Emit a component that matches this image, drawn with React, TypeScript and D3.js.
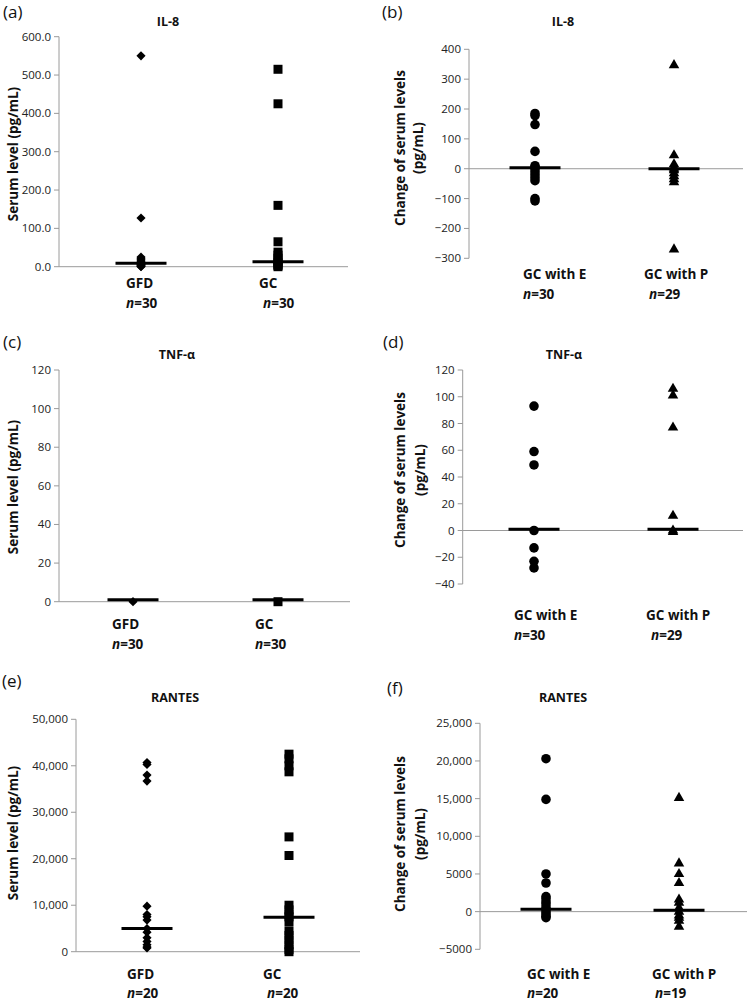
import React from "react";
import * as d3 from "d3";

// ---------- DATA ----------
const il8Groups = ["GFD", "GC"];
const il8N = ["30", "30"];
const il8GFD = [550, 127, 25, 22, 18, 15, 12, 10, 8, 6, 5, 3, 2, 1, 0];
const il8GC = [515, 425, 160, 65, 38, 30, 22, 15, 10, 6, 3, 0];
const il8Medians = [9, 13];
const il8Ticks = [0, 100, 200, 300, 400, 500, 600];

const il8ChgGroups = ["GC with E", "GC with P"];
const il8ChgN = ["30", "29"];
const il8ChgE = [185, 178, 148, 58, 10, 5, 0, -10, -20, -30, -40, -100, -108];
const il8ChgP = [347, 45, 15, 5, 0, -5, -15, -25, -35, -45, -270];
const il8ChgMedians = [3, 0];
const il8ChgTicks = [-300, -200, -100, 0, 100, 200, 300, 400];

const tnfGroups = ["GFD", "GC"];
const tnfN = ["30", "30"];
const tnfGFD = [0];
const tnfGC = [0];
const tnfMedians = [1, 1];
const tnfTicks = [0, 20, 40, 60, 80, 100, 120];

const tnfChgGroups = ["GC with E", "GC with P"];
const tnfChgN = ["30", "29"];
const tnfChgE = [93, 59, 49, 0, -13, -23, -28];
const tnfChgP = [106, 101, 77, 11, 0, -1];
const tnfChgMedians = [1, 1];
const tnfChgTicks = [-40, -20, 0, 20, 40, 60, 80, 100, 120];

const rantesGroups = ["GFD", "GC"];
const rantesN = ["20", "20"];
const rantesGFD = [40700, 40300, 38000, 36700, 9800, 8000, 7500, 6800, 5000, 4200, 3000, 2200, 1500, 1000, 800];
const rantesGC = [42500, 41500, 40000, 38700, 24700, 20700, 10000, 9000, 8000, 7500, 6500, 4500, 3500, 2500, 1500, 500, 0];
const rantesMedians = [5000, 7400];
const rantesTicks = [0, 10000, 20000, 30000, 40000, 50000];

const rantesChgGroups = ["GC with E", "GC with P"];
const rantesChgN = ["20", "19"];
const rantesChgE = [20300, 14900, 5000, 3800, 2000, 1700, 1300, 1000, 600, 300, 0, -300, -600, -800];
const rantesChgP = [15100, 6400, 5000, 3800, 1600, 1200, 500, 0, -500, -800, -1200, -2000];
const rantesChgMedians = [300, 200];
const rantesChgTicks = [-5000, 0, 5000, 10000, 15000, 20000, 25000];

// ---------- LAYOUT ----------
const FONT = "'Open Sans', 'Noto Sans', sans-serif";

type Sym = "diamond" | "square" | "circle" | "triangle";

interface PanelCfg {
  letter: string; letterX: number; letterY: number;
  title: string; titleX: number; titleY: number;
  axisX: number; xEnd: number; yTop: number; yBot: number;
  ticks: number[]; fmt: (v: number) => string;
  zeroLine: boolean;
  catX: [number, number];
  groups: string[]; ns: string[];
  series: number[][]; syms: Sym[];
  medians: number[];
  labelX: [number, number]; nX: [number, number];
  labelY: number; nY: number;
  yLabel: string[]; yLabelX: number[]; yLabelY: number;
}

const fmt1 = d3.format(".1f");
const fmtInt = d3.format("d");
const fmtComma = d3.format(",");
const fmtF = (v: number) => (Math.abs(v) >= 10000 ? fmtComma(v) : fmtInt(v));

const panels: PanelCfg[] = [
  {
    letter: "(a)", letterX: 3, letterY: 18, title: "IL-8", titleX: 168, titleY: 26,
    axisX: 59, xEnd: 348, yTop: 36.7, yBot: 266.7, ticks: il8Ticks, fmt: fmt1, zeroLine: false,
    catX: [141, 278], groups: il8Groups, ns: il8N, series: [il8GFD, il8GC], syms: ["diamond", "square"],
    medians: il8Medians, labelX: [126, 259], nX: [126, 263], labelY: 288, nY: 308,
    yLabel: ["Serum level (pg/mL)"], yLabelX: [13], yLabelY: 154,
  },
  {
    letter: "(b)", letterX: 382, letterY: 18, title: "IL-8", titleX: 563, titleY: 26,
    axisX: 469, xEnd: 743, yTop: 49.3, yBot: 258.3, ticks: il8ChgTicks, fmt: fmtInt, zeroLine: true,
    catX: [535, 674], groups: il8ChgGroups, ns: il8ChgN, series: [il8ChgE, il8ChgP], syms: ["circle", "triangle"],
    medians: il8ChgMedians, labelX: [523, 644], nX: [523, 649], labelY: 279, nY: 299,
    yLabel: ["Change of serum levels", "(pg/mL)"], yLabelX: [400, 418], yLabelY: 148,
  },
  {
    letter: "(c)", letterX: 3, letterY: 348, title: "TNF-α", titleX: 177, titleY: 359,
    axisX: 59, xEnd: 350, yTop: 370, yBot: 601.7, ticks: tnfTicks, fmt: fmtInt, zeroLine: false,
    catX: [133, 278], groups: tnfGroups, ns: tnfN, series: [tnfGFD, tnfGC], syms: ["diamond", "square"],
    medians: tnfMedians, labelX: [112, 255], nX: [112, 255], labelY: 629, nY: 649,
    yLabel: ["Serum level (pg/mL)"], yLabelX: [13], yLabelY: 487,
  },
  {
    letter: "(d)", letterX: 383, letterY: 348, title: "TNF-α", titleX: 564, titleY: 359,
    axisX: 462.7, xEnd: 743, yTop: 370, yBot: 584, ticks: tnfChgTicks, fmt: fmtInt, zeroLine: true,
    catX: [534, 673], groups: tnfChgGroups, ns: tnfChgN, series: [tnfChgE, tnfChgP], syms: ["circle", "triangle"],
    medians: tnfChgMedians, labelX: [514, 646], nX: [514, 651], labelY: 620, nY: 640,
    yLabel: ["Change of serum levels", "(pg/mL)"], yLabelX: [400, 420], yLabelY: 470,
  },
  {
    letter: "(e)", letterX: 2, letterY: 687, title: "RANTES", titleX: 175, titleY: 702,
    axisX: 76, xEnd: 360, yTop: 719.3, yBot: 951.7, ticks: rantesTicks, fmt: fmtComma, zeroLine: false,
    catX: [147, 289], groups: rantesGroups, ns: rantesN, series: [rantesGFD, rantesGC], syms: ["diamond", "square"],
    medians: rantesMedians, labelX: [127, 263], nX: [127, 267], labelY: 979, nY: 998,
    yLabel: ["Serum level (pg/mL)"], yLabelX: [13], yLabelY: 833,
  },
  {
    letter: "(f)", letterX: 387, letterY: 694, title: "RANTES", titleX: 563, titleY: 702,
    axisX: 480, xEnd: 747, yTop: 723.3, yBot: 949.3, ticks: rantesChgTicks, fmt: fmtF, zeroLine: true,
    catX: [546, 679], groups: rantesChgGroups, ns: rantesChgN, series: [rantesChgE, rantesChgP], syms: ["circle", "triangle"],
    medians: rantesChgMedians, labelX: [527, 652], nX: [527, 655], labelY: 979, nY: 998,
    yLabel: ["Change of serum levels", "(pg/mL)"], yLabelX: [400, 420], yLabelY: 834,
  },
];

const symPath = (s: Sym) => {
  if (s === "circle") return d3.symbol(d3.symbolCircle, 72)() as string;
  if (s === "square") return d3.symbol(d3.symbolSquare, 81)() as string;
  if (s === "triangle") return d3.symbol(d3.symbolTriangle, 48)() as string;
  return d3.symbol(d3.symbolSquare, 42)() as string;
};

function Panel({ p }: { p: PanelCfg }) {
  const y = d3.scaleLinear()
    .domain([p.ticks[0], p.ticks[p.ticks.length - 1]])
    .range([p.yBot, p.yTop]);
  const x = d3.scaleLinear().domain([0, 1]).range(p.catX);
  const baseY = p.zeroLine ? y(0) : p.yBot;
  const axisColor = "#9a9a9a";
  return (
    <g>
      <text x={p.letterX} y={p.letterY} fontSize={17} fontFamily={FONT} fill="#111">{p.letter}</text>
      <text x={p.titleX} y={p.titleY} fontSize={12.5} fontWeight="bold" fontFamily={FONT} textAnchor="middle" fill="#111">{p.title}</text>
      {/* y axis */}
      <line x1={p.axisX} x2={p.axisX} y1={p.yTop} y2={p.yBot} stroke={axisColor} strokeWidth={1} />
      {p.ticks.map((t) => (
        <g key={t}>
          <line x1={p.axisX - 5} x2={p.axisX} y1={y(t)} y2={y(t)} stroke={axisColor} strokeWidth={1} />
          <text x={p.axisX - 8} y={y(t) + 4} fontSize={11.5} fontFamily={FONT} textAnchor="end" fill="#222">{p.fmt(t)}</text>
        </g>
      ))}
      {/* x axis / zero line */}
      <line x1={p.axisX} x2={p.xEnd} y1={baseY} y2={baseY} stroke={axisColor} strokeWidth={1} />
      {/* points */}
      {p.series.map((vals, i) =>
        vals.map((v, j) => (
          <path key={i + "-" + j} d={symPath(p.syms[i])}
            transform={`translate(${x(i)},${y(v)})${p.syms[i] === "diamond" ? " rotate(45)" : ""}`}
            fill="#000" />
        ))
      )}
      {/* medians */}
      {p.medians.map((m, i) => (
        <line key={"m" + i} x1={x(i) - 25.5} x2={x(i) + 25.5} y1={y(m)} y2={y(m)} stroke="#000" strokeWidth={3} />
      ))}
      {/* category labels */}
      {p.groups.map((g, i) => (
        <g key={"g" + i}>
          <text x={p.labelX[i]} y={p.labelY} fontSize={13.5} fontWeight="bold" fontFamily={FONT} fill="#111">{g}</text>
          <text x={p.nX[i]} y={p.nY} fontSize={13.5} fontWeight="bold" fontFamily={FONT} fill="#111">
            <tspan fontStyle="italic">n</tspan>={p.ns[i]}
          </text>
        </g>
      ))}
      {/* y label */}
      {p.yLabel.map((l, i) => (
        <text key={"yl" + i} transform={`translate(${p.yLabelX[i] + 5},${p.yLabelY}) rotate(-90)`}
          fontSize={13.5} fontWeight="bold" fontFamily={FONT} textAnchor="middle" fill="#111">{l}</text>
      ))}
    </g>
  );
}

export default function App() {
  return (
    <svg width={750} height={1001} style={{ position: "absolute", left: 0, top: 0, background: "#fff" }}>
      <rect x={0} y={0} width={750} height={1001} fill="#fff" />
      {panels.map((p) => <Panel key={p.letter} p={p} />)}
    </svg>
  );
}
